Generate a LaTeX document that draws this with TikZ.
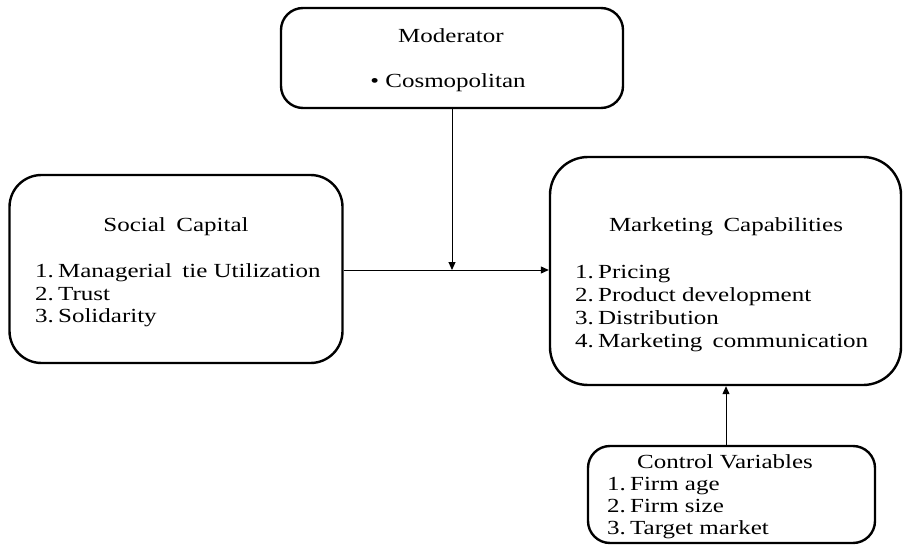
\documentclass[tikz,border=0pt]{standalone}
\usepackage{fontspec}
\usepackage{graphicx}
\setmainfont{Liberation Serif}
\usetikzlibrary{arrows.meta}
\newcommand{\wtxt}[1]{\scalebox{1.25}[1]{#1}}
\begin{document}
\begin{tikzpicture}[x=1pt,y=-1pt,
  box/.style={draw,line width=2.4pt,rounded corners=#1,inner sep=0pt},
  box/.default=25pt,
  txt/.style={font=\fontsize{20}{24}\selectfont,inner sep=0pt,anchor=base},
  lst/.style={txt,anchor=base west},
  conn/.style={line width=1pt,-{Triangle[length=8pt,width=7pt]}}]
\useasboundingbox (0,0) rectangle (904,545);
% boxes
\node[box=22pt,minimum width=342pt,minimum height=100pt] (mod) at (452,58) {};
\node[box=32pt,minimum width=333pt,minimum height=188pt] (soc) at (176,269) {};
\node[box=38pt,minimum width=351pt,minimum height=228pt] (mkt) at (725.5,271) {};
\node[box=22pt,minimum width=287pt,minimum height=97pt] (ctl) at (731.5,494.5) {};
% texts
\node[txt] (modt) at (451,43) {\wtxt{Moderator}};
\node[txt] (modi) at (448,88) {\wtxt{• Cosmopolitan}};
\node[txt] (soct) at (176,232) {\wtxt{Social\, Capital}};
\node[lst] (soc1) at (35,277) {\wtxt{1.\,Managerial\, tie Utilization}};
\node[lst] (soc2) at (35,300) {\wtxt{2.\,Trust}};
\node[lst] (soc3) at (35,322) {\wtxt{3.\,Solidarity}};
\node[txt] (mktt) at (726,232) {\wtxt{Marketing\, Capabilities}};
\node[lst] (mkt1) at (575,278) {\wtxt{1.\,Pricing}};
\node[lst] (mkt2) at (575,301) {\wtxt{2.\,Product development}};
\node[lst] (mkt3) at (575,324) {\wtxt{3.\,Distribution}};
\node[lst] (mkt4) at (575,347) {\wtxt{4.\,Marketing\, communication}};
\node[txt] (ctlt) at (725,468) {\wtxt{Control Variables}};
\node[lst] (ctl1) at (607,490) {\wtxt{1.\,Firm age}};
\node[lst] (ctl2) at (607,512) {\wtxt{2.\,Firm size}};
\node[lst] (ctl3) at (607,534) {\wtxt{3.\,Target market}};
% connectors
\coordinate (j) at (452,270);
\coordinate (c) at (726,0);
\draw[conn] (soc.east |- j) -- (mkt.west |- j);
\draw[conn] (mod.south -| j) -- (j);
\draw[conn] (ctl.north -| c) -- (mkt.south -| c);
\end{tikzpicture}
\end{document}
